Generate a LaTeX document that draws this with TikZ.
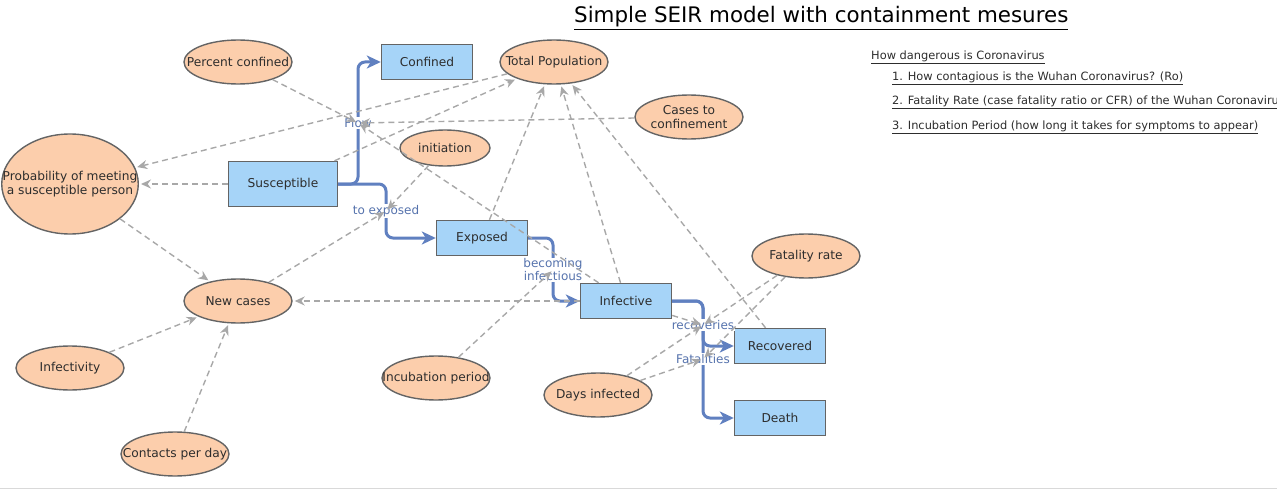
\documentclass[tikz,border=0pt]{standalone}
\usepackage{fontspec}
\setmainfont{DejaVu Sans}
\usepackage{tikz}
\usetikzlibrary{positioning,arrows.meta,shapes,calc}
\definecolor{stockblue}{RGB}{166,212,248}
\definecolor{auxpeach}{RGB}{252,206,172}
\definecolor{flowblue}{RGB}{96,128,192}
\definecolor{linkgray}{RGB}{168,168,168}
\definecolor{edgegray}{RGB}{100,100,100}
\definecolor{txtgray}{RGB}{45,45,45}

\begin{document}
\begin{tikzpicture}[x=1pt,y=-1pt,
  stock/.style={shape=rectangle,draw=edgegray,line width=1.4pt,fill=stockblue,minimum width=91pt,minimum height=35pt,inner sep=0pt,text=txtgray,font=\fontsize{12.2}{14}\selectfont},
  aux/.style={shape=ellipse,draw=edgegray,line width=1.4pt,fill=auxpeach,minimum width=108pt,minimum height=44pt,inner xsep=-19pt,inner ysep=0pt,align=center,text=txtgray,font=\fontsize{12.2}{14}\selectfont},
  flow/.style={draw=flowblue,line width=3pt,rounded corners=7pt,-{Stealth[length=14pt,width=13pt,inset=4pt]}},
  flowlabel/.style={fill=white,inner sep=1pt,text=flowblue!90!black,align=center,font=\fontsize{12}{13}\selectfont},
  link/.style={draw=linkgray,line width=1.4pt,dash pattern=on 6pt off 4pt,-{Stealth[length=10pt,width=9pt]},shorten >=2pt},
  ref/.style={anchor=west,inner sep=0pt,text=txtgray,font=\fontsize{11.4}{13}\selectfont},
]
\useasboundingbox (0,0) rectangle (1277,500);
\draw[gray!30,line width=1pt] (0,488) -- (1277,488);

\node[anchor=west,inner sep=0pt,text=black,font=\fontsize{21.4}{24}\selectfont] (title) at (574,18) {\underline{Simple SEIR model with containment mesures}};
\node[ref] (refhead) at (871,57) {\underline{How dangerous is Coronavirus}};
\node[ref] (ref1) at (892,78) {\underline{1. How contagious is the Wuhan Coronavirus? (Ro)}};
\node[ref] (ref2) at (892,102) {\underline{2. Fatality Rate (case fatality ratio or CFR) of the Wuhan Coronavirus}};
\node[ref] (ref3) at (892,127) {\underline{3. Incubation Period (how long it takes for symptoms to appear)}};

\node[stock] (conf) at (427,62) {Confined};
\node[stock,minimum width=109pt,minimum height=45pt] (sus) at (283,184) {Susceptible};
\node[stock] (exp) at (482,238) {Exposed};
\node[stock] (inf) at (626,301) {Infective};
\node[stock] (rec) at (780,346) {Recovered};
\node[stock] (dea) at (780,418) {Death};

\node[aux] (pconf) at (238,62) {Percent confined};
\node[aux] (tpop) at (554,62) {Total Population};
\node[aux] (ctc) at (689,117) {Cases to\\confinement};
\node[aux,minimum width=136pt,minimum height=100pt] (prob) at (70,184) {Probability of meeting\\a susceptible person};
\node[aux,minimum width=90pt,minimum height=36pt] (init) at (445,148) {initiation};
\node[aux] (newc) at (238,301) {New cases};
\node[aux] (frate) at (806,256) {Fatality rate};
\node[aux] (infy) at (70,368) {Infectivity};
\node[aux] (incp) at (436,378) {Incubation period};
\node[aux] (days) at (598,395) {Days infected};
\node[aux] (cpd) at (175,454) {Contacts per day};

\coordinate (flowv) at (358,123);
\coordinate (expv) at (386,211);
\coordinate (infv) at (553,270);
\coordinate (recv) at (703,325);
\coordinate (fatv) at (703,359);

\draw[flow] (sus.east) -| (flowv) |- (conf.west);
\draw[flow] (sus.east) -| (expv) |- (exp.west);
\draw[flow] (exp.east) -| (infv) |- (inf.west);
\draw[flow] (inf.east) -| (recv) |- (rec.west);
\draw[flow] (inf.east) -| (fatv) |- (dea.west);

\node[flowlabel] (flowlbl) at (flowv) {Flow};
\node[flowlabel] (explbl) at (expv) {to exposed};
\node[flowlabel] (inflbl) at (infv) {becoming\\infectious};
\node[flowlabel] (reclbl) at (recv) {recoveries};
\node[flowlabel] (fatlbl) at (fatv) {Fatalities};

\draw[link] (pconf) -- (flowv);
\draw[link] (ctc) -- (flowv);
\draw[link] (inf) -- (flowv);
\draw[link] (tpop) -- (prob);
\draw[link] (sus) -- (prob);
\draw[link] (sus) -- (tpop);
\draw[link] (exp) -- (tpop);
\draw[link] (inf) -- (tpop);
\draw[link] (rec) -- (tpop);
\draw[link] (prob) -- (newc);
\draw[link] (inf) -- (newc);
\draw[link] (infy) -- (newc);
\draw[link] (cpd) -- (newc);
\draw[link] (newc) -- (expv);
\draw[link] (init) -- (expv);
\draw[link] (incp) -- (infv);
\draw[link] (inf) -- (recv);
\draw[link] (days) -- (recv);
\draw[link] (days) -- (fatv);
\draw[link] (frate) -- (recv);
\draw[link] (frate) -- (fatv);
\end{tikzpicture}
\end{document}
